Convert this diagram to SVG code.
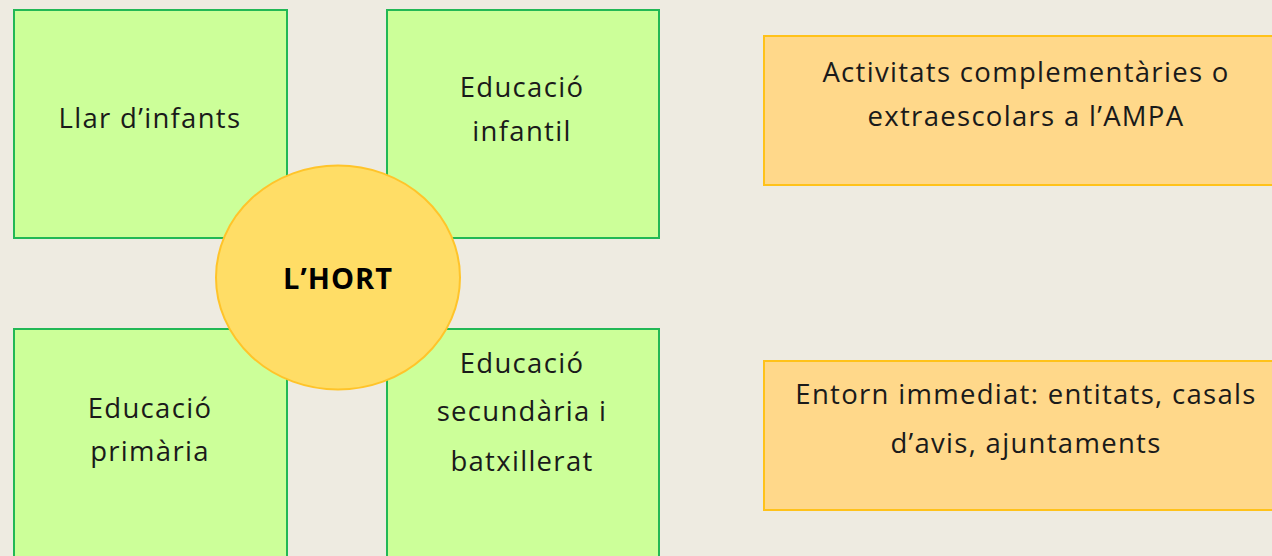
<svg xmlns="http://www.w3.org/2000/svg" width="1272" height="556" viewBox="0 0 1272 556">
<style>
.g{fill:#CCFF99;stroke:#22B855;stroke-width:2}
.o{fill:#FFD88A;stroke:#FFC21A;stroke-width:2}
.c{fill:#FFDD66;stroke:#FFC42A;stroke-width:2}
text{font-family:"Open Sans","Liberation Sans",sans-serif;font-size:27.5px;letter-spacing:1.3px;fill:#1a1a1a;text-anchor:middle}
.b{font-weight:bold;font-size:29px;letter-spacing:1px;fill:#000}
</style>
<rect width="1272" height="556" fill="#EEEBE1"/>
<g id="connectors"/>
<g id="llar"><rect class="g" x="14" y="10" width="273" height="228"/><text x="150" y="128">Llar d’infants</text></g>
<g id="infantil"><rect class="g" x="387" y="10" width="272" height="228"/><text x="522" y="97">Educació</text><text x="522" y="141">infantil</text></g>
<g id="primaria"><rect class="g" x="14" y="329" width="273" height="240"/><text x="150" y="418">Educació</text><text x="150" y="461">primària</text></g>
<g id="secundaria"><rect class="g" x="387" y="329" width="272" height="240"/><text x="522" y="373">Educació</text><text x="522" y="421">secundària i</text><text x="522" y="471">batxillerat</text></g>
<g id="hort"><ellipse class="c" cx="338" cy="277.5" rx="122" ry="112"/><text class="b" x="338" y="289">L’HORT</text></g>
<g id="ampa"><rect class="o" x="764" y="36" width="530" height="149"/><text x="1026" y="82">Activitats complementàries o</text><text x="1026" y="126">extraescolars a l’AMPA</text></g>
<g id="entorn"><rect class="o" x="764" y="361" width="530" height="149"/><text x="1026" y="404">Entorn immediat: entitats, casals</text><text x="1026" y="453">d’avis, ajuntaments</text></g>
</svg>
